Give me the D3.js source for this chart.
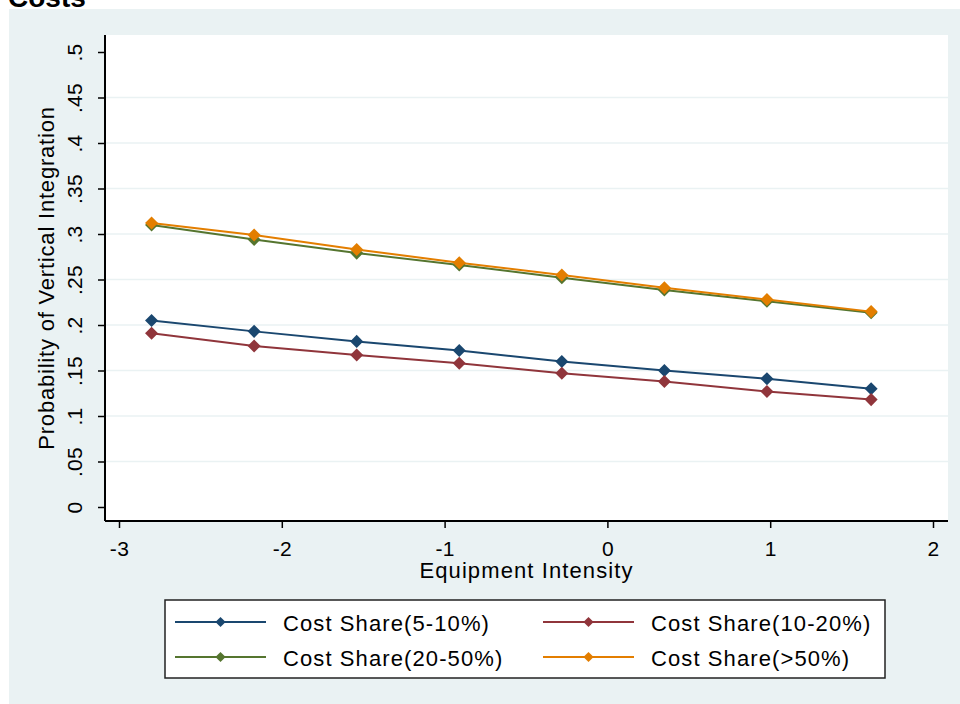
<!DOCTYPE html>
<html>
<head>
<meta charset="utf-8">
<script src="https://cdn.jsdelivr.net/npm/d3@7"></script>
<style>
  body { margin: 0; background: #fff; }
  text { font-family: "Liberation Sans", Arial, sans-serif; fill: #000; }
</style>
</head>
<body>
<svg id="chart" width="960" height="704"></svg>
<script>
// x positions (equipment intensity)
var xVals = [-2.8, -2.17, -1.54, -0.91, -0.28, 0.35, 0.98, 1.62];

// predicted probabilities per cost-share group
var cs5to10 = [0.205, 0.193, 0.182, 0.172, 0.160, 0.150, 0.141, 0.130];
var cs10to20 = [0.191, 0.177, 0.167, 0.158, 0.147, 0.138, 0.127, 0.118];
var cs20to50 = [0.310, 0.294, 0.279, 0.266, 0.252, 0.2385, 0.226, 0.2135];
var cs50plus = [0.312, 0.299, 0.283, 0.2685, 0.255, 0.241, 0.228, 0.2147];

var seriesNames = ["Cost Share(5-10%)", "Cost Share(10-20%)", "Cost Share(20-50%)", "Cost Share(>50%)"];
var seriesColors = ["#1a476f", "#90353b", "#55752f", "#e37e00"];

var xTicks = [-3, -2, -1, 0, 1, 2];
var yTicks = [0, .05, .1, .15, .2, .25, .3, .35, .4, .45, .5];
var yTickLabels = ["0", ".05", ".1", ".15", ".2", ".25", ".3", ".35", ".4", ".45", ".5"];

var series = [cs5to10, cs10to20, cs20to50, cs50plus].map(function (vals, i) {
    return {
        name: seriesNames[i],
        color: seriesColors[i],
        values: vals.map(function (v, j) { return {x: xVals[j], y: v}; })
    };
});

var svg = d3.select("#chart");

// plot region
var plot = {left: 105, right: 948, top: 35, bottom: 521};

var x = d3.scaleLinear().domain([-3, 2]).range([119, 933]);
var y = d3.scaleLinear().domain([0, 0.5]).range([507, 52]);

// graph region background
svg.append("rect")
    .attr("x", 9).attr("y", 9)
    .attr("width", 951).attr("height", 695)
    .attr("fill", "#eaf2f3");

// cut-off title at the top
svg.append("text")
    .attr("x", 8).attr("y", 7)
    .style("font-size", "28px")
    .style("font-weight", "bold")
    .text("Costs");

svg.append("rect")
    .attr("x", plot.left).attr("y", plot.top)
    .attr("width", plot.right - plot.left)
    .attr("height", plot.bottom - plot.top)
    .attr("fill", "#fff");

// grid lines (Stata skips the end ticks)
svg.append("g")
    .selectAll("line")
    .data(yTicks.slice(1, -1))
    .join("line")
    .attr("x1", plot.left).attr("x2", plot.right)
    .attr("y1", function (d) { return y(d); })
    .attr("y2", function (d) { return y(d); })
    .attr("stroke", "#eaf2f3")
    .attr("stroke-width", 1.5);

// Y axis
var yAxis = d3.axisLeft(y)
    .tickValues(yTicks)
    .tickSize(7)
    .tickFormat(function (d, i) { return yTickLabels[i]; });

var gy = svg.append("g")
    .attr("transform", "translate(" + plot.left + ",0)")
    .call(yAxis);
gy.select(".domain").remove();
gy.selectAll(".tick line").attr("stroke", "#000").attr("stroke-width", 1.5);
gy.selectAll(".tick text")
    .attr("x", null).attr("dy", null)
    .attr("transform", "translate(-23,0) rotate(-90)")
    .attr("text-anchor", "middle")
    .style("font-size", "21px")
    .style("letter-spacing", "0.3px")
    .style("font-family", "'Liberation Sans', Arial, sans-serif");
gy.append("line")
    .attr("x1", 0).attr("x2", 0)
    .attr("y1", plot.top).attr("y2", plot.bottom)
    .attr("stroke", "#000").attr("stroke-width", 2);

// X axis
var xAxis = d3.axisBottom(x)
    .tickValues(xTicks)
    .tickSize(7)
    .tickFormat(d3.format("d"));

var gx = svg.append("g")
    .attr("transform", "translate(0," + plot.bottom + ")")
    .call(xAxis);
gx.select(".domain").remove();
gx.selectAll(".tick line").attr("stroke", "#000").attr("stroke-width", 1.5);
gx.selectAll(".tick text")
    .attr("y", 35).attr("dy", null)
    .style("font-size", "21px")
    .style("letter-spacing", "0.3px")
    .style("font-family", "'Liberation Sans', Arial, sans-serif")
    .text(function (d) { return d < 0 ? "-" + Math.abs(d) : d; });
gx.append("line")
    .attr("x1", plot.left).attr("x2", plot.right)
    .attr("y1", 0).attr("y2", 0)
    .attr("stroke", "#000").attr("stroke-width", 2);

// axis titles
svg.append("text")
    .attr("x", (plot.left + plot.right) / 2)
    .attr("y", 578)
    .attr("text-anchor", "middle")
    .style("font-size", "22px")
    .style("letter-spacing", "1.1px")
    .text("Equipment Intensity");

svg.append("text")
    .attr("transform", "translate(54," + ((plot.top + plot.bottom) / 2) + ") rotate(-90)")
    .attr("text-anchor", "middle")
    .style("font-size", "22px")
    .style("letter-spacing", "0.8px")
    .text("Probability of Vertical Integration");

// lines and markers
var valueline = d3.line()
    .x(function (d) { return x(d.x); })
    .y(function (d) { return y(d.y); });

var diamond = d3.symbol().type(d3.symbolSquare).size(85);

series.forEach(function (s) {
    svg.append("path")
        .datum(s.values)
        .attr("fill", "none")
        .attr("stroke", s.color)
        .attr("stroke-width", 2)
        .attr("d", valueline);

    svg.append("g")
        .selectAll("path")
        .data(s.values)
        .join("path")
        .attr("d", diamond)
        .attr("transform", function (d) {
            return "translate(" + x(d.x) + "," + y(d.y) + ") rotate(45)";
        })
        .attr("fill", s.color);
});

// legend
var legend = svg.append("g");
legend.append("rect")
    .attr("x", 165).attr("y", 600)
    .attr("width", 720).attr("height", 78)
    .attr("fill", "#fff")
    .attr("stroke", "#222")
    .attr("stroke-width", 1.5);

var legendCols = [175, 543];
var legendRows = [622, 657];
var legendMarker = d3.symbol().type(d3.symbolSquare).size(52);

series.forEach(function (s, i) {
    var lx = legendCols[i % 2], ly = legendRows[Math.floor(i / 2)];
    var item = legend.append("g");
    item.append("line")
        .attr("x1", lx).attr("x2", lx + 91)
        .attr("y1", ly).attr("y2", ly)
        .attr("stroke", s.color)
        .attr("stroke-width", 2);
    item.append("path")
        .attr("d", legendMarker)
        .attr("transform", "translate(" + (lx + 45.5) + "," + ly + ") rotate(45)")
        .attr("fill", s.color);
    item.append("text")
        .attr("x", lx + 108)
        .attr("y", ly + 9)
        .style("font-size", "22px")
        .style("letter-spacing", "1.1px")
        .text(s.name);
});
</script>
</body>
</html>
